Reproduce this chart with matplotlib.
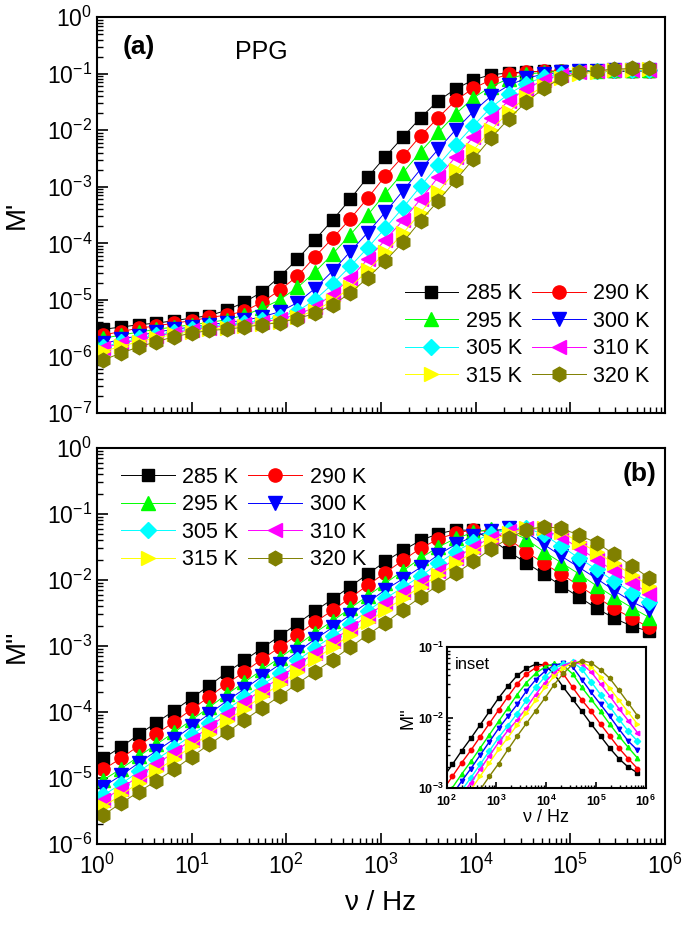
import matplotlib
matplotlib.use('Agg')
import matplotlib.pyplot as plt
import numpy as np
from matplotlib.ticker import LogLocator, FuncFormatter, NullFormatter

plt.rcParams['font.family'] = ['Liberation Sans', 'DejaVu Sans']
plt.rcParams['mathtext.fontset'] = 'custom'
plt.rcParams['mathtext.rm'] = 'Liberation Sans'
plt.rcParams['mathtext.bf'] = 'Liberation Sans:bold'
plt.rcParams['mathtext.default'] = 'regular'

# measurement frequencies (Hz)
freq = [1.17, 1.80, 2.77, 4.25, 6.52, 10.0, 15.3, 23.6, 36.1, 55.5, 85.1, 131,
        200, 308, 472, 724, 1110, 1710, 2620, 4020, 6170, 9460, 14500, 22300,
        34200, 52500, 80500, 124000, 190000, 291000, 447000, 685000]

temps = ['285 K', '290 K', '295 K', '300 K', '305 K', '310 K', '315 K', '320 K']

# M' (decades)
m1_285 = [-5.52, -5.48, -5.44, -5.41, -5.37, -5.32, -5.28, -5.18, -5.04, -4.86, -4.59, -4.28, -3.94, -3.59, -3.22, -2.83,
          -2.47, -2.12, -1.78, -1.48, -1.27, -1.11, -1.02, -0.99, -0.97, -0.96, -0.96, -0.96, -0.96, -0.96, -0.96, -0.96]
m1_290 = [-5.62, -5.56, -5.50, -5.46, -5.41, -5.37, -5.31, -5.27, -5.20, -5.04, -4.83, -4.58, -4.24, -3.91, -3.57, -3.20,
          -2.81, -2.46, -2.10, -1.78, -1.47, -1.26, -1.11, -1.01, -0.97, -0.96, -0.95, -0.95, -0.95, -0.95, -0.95, -0.95]
m1_295 = [-5.68, -5.62, -5.57, -5.52, -5.48, -5.44, -5.40, -5.35, -5.27, -5.15, -5.00, -4.78, -4.51, -4.19, -3.85, -3.50,
          -3.12, -2.75, -2.38, -2.04, -1.71, -1.43, -1.23, -1.09, -1.01, -0.98, -0.96, -0.95, -0.95, -0.94, -0.94, -0.94]
m1_300 = [-5.77, -5.70, -5.63, -5.57, -5.52, -5.48, -5.44, -5.40, -5.36, -5.30, -5.21, -5.05, -4.80, -4.49, -4.15, -3.81,
          -3.45, -3.07, -2.69, -2.34, -1.99, -1.67, -1.40, -1.21, -1.08, -1.01, -0.98, -0.96, -0.95, -0.94, -0.94, -0.93]
m1_305 = [-5.83, -5.75, -5.68, -5.62, -5.56, -5.51, -5.47, -5.43, -5.40, -5.36, -5.30, -5.20, -5.00, -4.72, -4.41, -4.08,
          -3.73, -3.37, -2.99, -2.62, -2.26, -1.92, -1.60, -1.36, -1.18, -1.06, -1.00, -0.97, -0.95, -0.94, -0.93, -0.93]
m1_310 = [-5.85, -5.77, -5.70, -5.64, -5.58, -5.53, -5.49, -5.46, -5.43, -5.39, -5.34, -5.26, -5.13, -4.90, -4.62, -4.28,
          -3.94, -3.59, -3.22, -2.83, -2.47, -2.12, -1.78, -1.48, -1.27, -1.11, -1.02, -0.98, -0.95, -0.94, -0.93, -0.93]
m1_315 = [-5.91, -5.82, -5.74, -5.67, -5.61, -5.56, -5.52, -5.49, -5.46, -5.43, -5.39, -5.30, -5.19, -5.02, -4.78, -4.48,
          -4.16, -3.82, -3.46, -3.09, -2.71, -2.35, -2.00, -1.68, -1.41, -1.22, -1.08, -1.01, -0.97, -0.94, -0.93, -0.92]
m1_320 = [-6.06, -5.94, -5.83, -5.74, -5.65, -5.59, -5.54, -5.52, -5.48, -5.44, -5.40, -5.33, -5.24, -5.09, -4.88, -4.61,
          -4.31, -3.98, -3.60, -3.25, -2.88, -2.51, -2.14, -1.80, -1.50, -1.26, -1.08, -0.98, -0.95, -0.92, -0.91, -0.91]

# M'' (decades)
m2_285 = [-4.70, -4.53, -4.34, -4.16, -3.98, -3.79, -3.60, -3.40, -3.22, -3.03, -2.85, -2.66, -2.47, -2.29, -2.10, -1.91,
          -1.72, -1.55, -1.40, -1.30, -1.24, -1.25, -1.38, -1.57, -1.74, -1.91, -2.09, -2.26, -2.43, -2.58, -2.70, -2.78]
m2_290 = [-4.87, -4.70, -4.51, -4.33, -4.15, -3.96, -3.77, -3.57, -3.39, -3.20, -3.02, -2.83, -2.64, -2.46, -2.27, -2.08,
          -1.89, -1.70, -1.52, -1.38, -1.29, -1.24, -1.27, -1.38, -1.57, -1.75, -1.91, -2.09, -2.26, -2.43, -2.58, -2.72]
m2_295 = [-5.03, -4.86, -4.67, -4.49, -4.31, -4.12, -3.93, -3.73, -3.55, -3.36, -3.18, -2.99, -2.80, -2.62, -2.43, -2.24,
          -2.05, -1.86, -1.67, -1.50, -1.37, -1.28, -1.23, -1.26, -1.38, -1.57, -1.74, -1.91, -2.09, -2.26, -2.42, -2.57]
m2_300 = [-5.13, -4.96, -4.77, -4.59, -4.41, -4.22, -4.03, -3.83, -3.65, -3.46, -3.28, -3.09, -2.90, -2.72, -2.53, -2.34,
          -2.15, -1.98, -1.81, -1.62, -1.46, -1.34, -1.26, -1.22, -1.28, -1.46, -1.64, -1.81, -1.98, -2.16, -2.33, -2.46]
m2_305 = [-5.26, -5.09, -4.90, -4.72, -4.54, -4.35, -4.16, -3.96, -3.78, -3.59, -3.41, -3.22, -3.03, -2.85, -2.66, -2.47,
          -2.28, -2.11, -1.94, -1.75, -1.57, -1.42, -1.30, -1.24, -1.21, -1.31, -1.49, -1.67, -1.84, -2.02, -2.19, -2.33]
m2_310 = [-5.33, -5.16, -4.97, -4.79, -4.61, -4.42, -4.23, -4.03, -3.85, -3.66, -3.48, -3.29, -3.10, -2.92, -2.73, -2.54,
          -2.35, -2.18, -2.03, -1.86, -1.67, -1.50, -1.36, -1.26, -1.21, -1.24, -1.35, -1.52, -1.69, -1.87, -2.04, -2.21]
m2_315 = [-5.43, -5.26, -5.07, -4.89, -4.71, -4.52, -4.33, -4.13, -3.95, -3.76, -3.58, -3.39, -3.20, -3.02, -2.83, -2.64,
          -2.45, -2.28, -2.10, -1.93, -1.75, -1.57, -1.41, -1.29, -1.22, -1.21, -1.28, -1.42, -1.58, -1.75, -1.92, -2.09]
m2_320 = [-5.56, -5.38, -5.21, -5.04, -4.87, -4.68, -4.49, -4.31, -4.12, -3.94, -3.76, -3.57, -3.39, -3.21, -3.02, -2.83,
          -2.65, -2.45, -2.26, -2.08, -1.90, -1.72, -1.53, -1.37, -1.24, -1.19, -1.22, -1.32, -1.44, -1.61, -1.79, -1.97]

m1_all = [m1_285, m1_290, m1_295, m1_300, m1_305, m1_310, m1_315, m1_320]
m2_all = [m2_285, m2_290, m2_295, m2_300, m2_305, m2_310, m2_315, m2_320]

colours = ['black', 'red', '#00ff00', 'blue', 'cyan', 'magenta', 'yellow', '#808000']
markers = ['s', 'o', '^', 'v', 'D', '<', '>', 'h']
msizes = [8.5, 9.5, 10.5, 10.5, 8.5, 10.5, 10.5, 10.5]

def style_axis(ax, labelsize=16.5, major=8, minor=4):
    ax.set_xscale('log')
    ax.set_yscale('log')
    ax.tick_params(which='major', direction='in', length=major, width=1.2,
                   top=False, right=False, labelsize=labelsize)
    ax.tick_params(which='minor', direction='in', length=minor, width=1.0,
                   top=False, right=False)
    ax.xaxis.set_major_locator(LogLocator(base=10, numticks=20))
    ax.yaxis.set_major_locator(LogLocator(base=10, numticks=20))
    ax.xaxis.set_minor_locator(LogLocator(base=10, subs=np.arange(2, 10), numticks=20))
    ax.yaxis.set_minor_locator(LogLocator(base=10, subs=np.arange(2, 10), numticks=20))
    ax.xaxis.set_minor_formatter(NullFormatter())
    ax.yaxis.set_minor_formatter(NullFormatter())
    for s in ax.spines.values():
        s.set_linewidth(1.5)

fig = plt.figure(figsize=(6.85, 9.3), dpi=100)
ax1 = fig.add_axes([0.1416, 0.5559, 0.8292, 0.4258])
ax2 = fig.add_axes([0.1416, 0.0925, 0.8292, 0.4258])

f = np.array(freq)
h1, h2 = [], []
for i in range(8):
    l1, = ax1.plot(f, 10 ** np.array(m1_all[i]), color=colours[i], marker=markers[i], ms=msizes[i],
                   mec=colours[i], lw=0.7, label=temps[i])
    l2, = ax2.plot(f, 10 ** np.array(m2_all[i]), color=colours[i], marker=markers[i], ms=msizes[i],
                   mec=colours[i], lw=0.7, label=temps[i])
    h1.append(l1)
    h2.append(l2)

style_axis(ax1)
style_axis(ax2)
ax1.set_xlim(1, 1e6)
ax1.set_ylim(1e-7, 1)
ax1.tick_params(labelbottom=False)
ax2.set_xlim(1, 1e6)
ax2.set_ylim(1e-6, 1)
ax2.tick_params(axis='x', pad=7)

ax1.set_ylabel("M'", fontsize=20)
ax2.set_ylabel("M''", fontsize=20)
ax1.yaxis.set_label_coords(-0.118, 0.5)
ax2.yaxis.set_label_coords(-0.118, 0.5)
ax2.set_xlabel('ν / Hz', fontsize=20, labelpad=8)

ax1.text(0.045, 0.925, '(a)', transform=ax1.transAxes, fontsize=19, fontweight='bold', va='center')
ax1.text(0.243, 0.912, 'PPG', transform=ax1.transAxes, fontsize=18, va='center')
ax2.text(0.985, 0.935, '(b)', transform=ax2.transAxes, fontsize=19, fontweight='bold',
         va='center', ha='right')

# legend is filled row by row in the reference
order = [0, 2, 4, 6, 1, 3, 5, 7]
leg_kw = dict(ncol=2, frameon=False, fontsize=15.5, handlelength=2.5, handletextpad=0.35,
              columnspacing=0.45, labelspacing=0.3, borderpad=0.2, loc='center')
ax1.legend([h1[j] for j in order], [temps[j] for j in order],
           bbox_to_anchor=(0.757, 0.197), **leg_kw)
ax2.legend([h2[j] for j in order], [temps[j] for j in order],
           bbox_to_anchor=(0.258, 0.822), **leg_kw)

# inset: M'' around the peak
axi = fig.add_axes([0.652, 0.1524, 0.2905, 0.1516])
for i in range(8):
    axi.plot(f, 10 ** np.array(m2_all[i]), color=colours[i], marker=markers[i], ms=3.2,
             mec=colours[i], lw=1.0)
style_axis(axi, labelsize=9, major=4, minor=2)
axi.set_xlim(1e2, 1e6)
axi.set_ylim(1e-3, 1e-1)
bold_fmt = FuncFormatter(lambda v, p: r'$\mathbf{10^{%d}}$' % int(round(np.log10(v))))
axi.xaxis.set_major_formatter(bold_fmt)
axi.yaxis.set_major_formatter(bold_fmt)
axi.tick_params(axis='y', which='major', pad=2)
axi.tick_params(axis='x', which='major', pad=4)
axi.set_ylabel("M''", fontsize=13, labelpad=1)
axi.set_xlabel('ν / Hz', fontsize=13, labelpad=0)
axi.text(0.04, 0.88, 'inset', transform=axi.transAxes, fontsize=12, va='center')

fig.savefig('out.png', dpi=100)
